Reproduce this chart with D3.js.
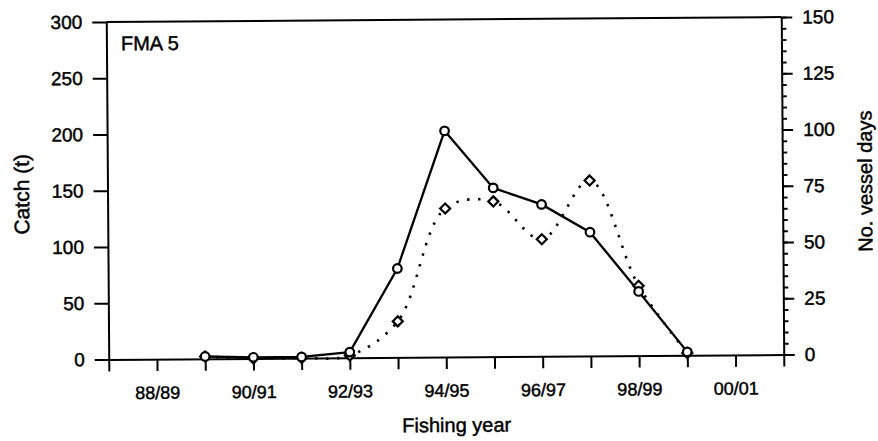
<!DOCTYPE html>
<html>
<head>
<meta charset="utf-8">
<script src="https://cdn.jsdelivr.net/npm/d3@7"></script>
<style>
  html, body { margin: 0; padding: 0; background: #fff; }
  svg { display: block; }
  text { font-family: "Liberation Sans", Arial, Helvetica, sans-serif; fill: #000;
         stroke: #000; stroke-width: 0.45px; }
</style>
</head>
<body>
<svg id="chart" width="878" height="441"></svg>
<script>
// Fishing years on the x axis (every year gets a tick, every other one a label)
const fishingYears = ["87/88", "88/89", "89/90", "90/91", "91/92", "92/93", "93/94",
  "94/95", "95/96", "96/97", "97/98", "98/99", "99/00", "00/01", "01/02"];
const labelledYears = ["88/89", "90/91", "92/93", "94/95", "96/97", "98/99", "00/01"];

// Years with reported fishing
const seriesYears = ["89/90", "90/91", "91/92", "92/93", "93/94", "94/95",
  "95/96", "96/97", "97/98", "98/99", "99/00"];
// Catch in tonnes (left axis)
const catchTonnes = [2, 1, 1, 5, 79, 201, 150, 135, 110, 57, 3];
// Number of vessel days (right axis)
const vesselDays = [1, 0, 0, 1, 16, 66, 69, 52, 78, 31, 1];

const catchTicks = [0, 50, 100, 150, 200, 250, 300];
const daysTicks = [0, 25, 50, 75, 100, 125, 150];
const daysMinorTicks = d3.range(0, 151, 5);

const plot = { left: 107.5, right: 782.5, top: 19.5, bottom: 357 };
const cx = (plot.left + plot.right) / 2, cy = (plot.top + plot.bottom) / 2;

const svg = d3.select("#chart");
// the whole figure sits at a slight tilt
const root = svg.append("g")
  .attr("transform", `rotate(-0.42, ${cx}, ${cy})`);

const x = d3.scalePoint().domain(fishingYears).range([plot.left, plot.right]).padding(0);
const yCatch = d3.scaleLinear().domain([0, 300]).range([plot.bottom, plot.top]);
const yDays = d3.scaleLinear().domain([0, 150]).range([plot.bottom, plot.top]);

const axisStroke = 2;

// bottom axis
const gx = root.append("g").attr("transform", `translate(0,${plot.bottom})`)
  .call(d3.axisBottom(x).tickSize(12).tickSizeOuter(0).tickPadding(15)
    .tickFormat(d => labelledYears.includes(d) ? d : ""));
// left axis
const gl = root.append("g").attr("transform", `translate(${plot.left},0)`)
  .call(d3.axisLeft(yCatch).tickValues(catchTicks).tickSize(14).tickSizeOuter(0).tickPadding(10));
// right axis: minor ticks first, then the labelled major ticks
const grm = root.append("g").attr("transform", `translate(${plot.right},0)`)
  .call(d3.axisRight(yDays).tickValues(daysMinorTicks).tickSize(5).tickSizeOuter(0).tickFormat(""));
const gr = root.append("g").attr("transform", `translate(${plot.right},0)`)
  .call(d3.axisRight(yDays).tickValues(daysTicks).tickSize(11).tickSizeOuter(0).tickPadding(10));

[gx, gl, grm, gr].forEach(g => {
  g.select(".domain").attr("stroke", "#000").attr("stroke-width", axisStroke);
  g.selectAll(".tick line").attr("stroke", "#000").attr("stroke-width", axisStroke);
  g.selectAll(".tick text").attr("fill", "#000").style("font-size", "19px");
});
gx.selectAll(".tick text").style("font-size", "18px");
grm.select(".domain").remove();
grm.selectAll(".tick line").attr("stroke-width", 1.8);

// top frame line
root.append("line")
  .attr("x1", plot.left).attr("x2", plot.right).attr("y1", plot.top).attr("y2", plot.top)
  .attr("stroke", "#000").attr("stroke-width", axisStroke);

// vessel days: dotted smoothed line with diamonds
const daysLine = d3.line()
  .x((d, i) => x(seriesYears[i]))
  .y(d => yDays(d))
  .curve(d3.curveCatmullRom.alpha(0.5));
root.append("path")
  .datum(vesselDays)
  .attr("d", daysLine)
  .attr("fill", "none")
  .attr("stroke", "#000")
  .attr("stroke-width", 2.6)
  .attr("stroke-dasharray", "2.4 8.6");

// catch: solid line with circles
const catchLine = d3.line()
  .x((d, i) => x(seriesYears[i]))
  .y(d => yCatch(d));
root.append("path")
  .datum(catchTonnes)
  .attr("d", catchLine)
  .attr("fill", "none")
  .attr("stroke", "#000")
  .attr("stroke-width", 2.3);

const diamond = d3.symbol().type(d3.symbolDiamond2).size(64);
root.append("g").selectAll("path")
  .data(vesselDays)
  .join("path")
  .attr("d", diamond)
  .attr("transform", (d, i) => `translate(${x(seriesYears[i])},${yDays(d)})`)
  .attr("fill", "#fff")
  .attr("stroke", "#000")
  .attr("stroke-width", 2.2);

root.append("g").selectAll("circle")
  .data(catchTonnes)
  .join("circle")
  .attr("cx", (d, i) => x(seriesYears[i]))
  .attr("cy", d => yCatch(d))
  .attr("r", 4.3)
  .attr("fill", "#fff")
  .attr("stroke", "#000")
  .attr("stroke-width", 2.2);

// panel label
root.append("text")
  .attr("x", 122).attr("y", 48)
  .style("font-size", "20px")
  .text("FMA 5");

// axis titles
root.append("text")
  .attr("x", 455).attr("y", 432)
  .attr("text-anchor", "middle")
  .style("font-size", "20px")
  .text("Fishing year");

root.append("text")
  .attr("transform", `translate(29,${cy + 3}) rotate(-90)`)
  .attr("text-anchor", "middle")
  .style("font-size", "21px")
  .text("Catch (t)");

root.append("text")
  .attr("transform", `translate(872,${cy - 4}) rotate(-90)`)
  .attr("text-anchor", "middle")
  .style("font-size", "20px")
  .text("No. vessel days");
</script>
</body>
</html>
